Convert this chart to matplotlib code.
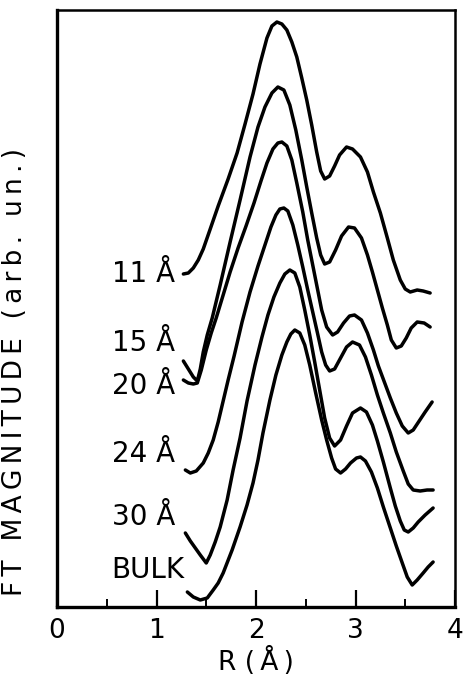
import matplotlib
matplotlib.use("Agg")
from matplotlib import pyplot as plt

# ######### Data: FT magnitude vs R, curves stacked (arb. units) #########

r_11 = [1.27, 1.32, 1.37, 1.42, 1.47, 1.54, 1.62, 1.72, 1.81, 1.89, 1.97, 2.04, 2.11, 2.16,
        2.21, 2.26, 2.31, 2.36, 2.41, 2.46, 2.51, 2.56, 2.61, 2.65, 2.69, 2.74, 2.79, 2.84,
        2.91, 2.97, 3.05, 3.12, 3.18, 3.25, 3.32, 3.38, 3.45, 3.50, 3.55, 3.62, 3.68, 3.75]
ft_11 = [3.33, 3.34, 3.39, 3.47, 3.58, 3.78, 4.01, 4.28, 4.54, 4.83, 5.13, 5.43, 5.69, 5.81,
         5.85, 5.83, 5.77, 5.65, 5.50, 5.29, 5.07, 4.82, 4.55, 4.36, 4.28, 4.31, 4.41, 4.52,
         4.60, 4.58, 4.50, 4.35, 4.15, 3.94, 3.69, 3.47, 3.27, 3.18, 3.15, 3.17, 3.16, 3.14]

r_15 = [1.27, 1.32, 1.37, 1.41, 1.44, 1.47, 1.51, 1.56, 1.64, 1.74, 1.84, 1.94, 2.02, 2.09,
        2.16, 2.22, 2.28, 2.34, 2.40, 2.46, 2.51, 2.56, 2.61, 2.65, 2.69, 2.74, 2.80, 2.86,
        2.93, 2.99, 3.06, 3.12, 3.17, 3.22, 3.27, 3.32, 3.36, 3.41, 3.46, 3.51, 3.56, 3.62,
        3.69, 3.75]
ft_15 = [2.46, 2.38, 2.30, 2.26, 2.38, 2.55, 2.72, 2.89, 3.22, 3.65, 4.07, 4.50, 4.80, 5.00,
         5.14, 5.20, 5.17, 5.02, 4.77, 4.47, 4.20, 3.94, 3.69, 3.52, 3.43, 3.45, 3.57, 3.71,
         3.80, 3.79, 3.69, 3.52, 3.35, 3.17, 2.99, 2.82, 2.67, 2.59, 2.61, 2.69, 2.79, 2.85,
         2.84, 2.80]

r_20 = [1.27, 1.32, 1.37, 1.41, 1.45, 1.50, 1.55, 1.60, 1.67, 1.74, 1.82, 1.90, 1.98, 2.05,
        2.11, 2.17, 2.22, 2.26, 2.31, 2.36, 2.41, 2.47, 2.52, 2.57, 2.62, 2.66, 2.71, 2.77,
        2.82, 2.88, 2.94, 2.99, 3.06, 3.12, 3.18, 3.23, 3.29, 3.35, 3.41, 3.47, 3.53, 3.58,
        3.64, 3.70, 3.77]
ft_20 = [2.27, 2.24, 2.23, 2.24, 2.37, 2.57, 2.74, 2.89, 3.12, 3.35, 3.59, 3.81, 4.04, 4.26,
         4.44, 4.58, 4.64, 4.65, 4.61, 4.47, 4.24, 3.95, 3.67, 3.42, 3.17, 2.97, 2.80, 2.72,
         2.75, 2.84, 2.91, 2.92, 2.87, 2.74, 2.57, 2.41, 2.25, 2.09, 1.94, 1.81, 1.74, 1.77,
         1.86, 1.95, 2.05]

r_24 = [1.29, 1.34, 1.40, 1.47, 1.52, 1.57, 1.62, 1.67, 1.72, 1.78, 1.86, 1.94, 2.02, 2.09,
        2.15, 2.20, 2.24, 2.28, 2.32, 2.37, 2.42, 2.47, 2.52, 2.57, 2.62, 2.66, 2.70, 2.74,
        2.79, 2.85, 2.91, 2.97, 3.04, 3.10, 3.16, 3.22, 3.28, 3.35, 3.41, 3.48, 3.53, 3.58,
        3.65, 3.72, 3.78]
ft_24 = [1.37, 1.34, 1.36, 1.44, 1.54, 1.67, 1.85, 2.06, 2.27, 2.51, 2.85, 3.15, 3.41, 3.62,
         3.80, 3.92, 3.98, 3.99, 3.96, 3.82, 3.62, 3.40, 3.17, 2.95, 2.73, 2.55, 2.42, 2.36,
         2.38, 2.49, 2.60, 2.65, 2.62, 2.50, 2.32, 2.12, 1.94, 1.74, 1.55, 1.36, 1.23, 1.17,
         1.16, 1.17, 1.17]

r_30 = [1.29, 1.34, 1.39, 1.44, 1.50, 1.54, 1.59, 1.64, 1.71, 1.77, 1.84, 1.91, 1.99, 2.06,
        2.12, 2.18, 2.24, 2.29, 2.34, 2.39, 2.44, 2.49, 2.54, 2.59, 2.64, 2.69, 2.74, 2.79,
        2.85, 2.91, 2.97, 3.05, 3.11, 3.17, 3.22, 3.28, 3.35, 3.40, 3.45, 3.49, 3.53, 3.58,
        3.63, 3.70, 3.78]
ft_30 = [0.74, 0.66, 0.59, 0.52, 0.44, 0.52, 0.65, 0.80, 1.07, 1.37, 1.69, 2.06, 2.42, 2.70,
         2.92, 3.10, 3.24, 3.33, 3.37, 3.34, 3.20, 2.97, 2.72, 2.45, 2.17, 1.89, 1.69, 1.61,
         1.67, 1.81, 1.94, 1.99, 1.95, 1.82, 1.66, 1.45, 1.19, 1.01, 0.86, 0.77, 0.75, 0.79,
         0.85, 0.92, 0.99]

r_bulk = [1.31, 1.37, 1.44, 1.51, 1.57, 1.62, 1.67, 1.76, 1.84, 1.91, 1.97, 2.02, 2.07, 2.14,
          2.20, 2.26, 2.31, 2.35, 2.39, 2.44, 2.49, 2.54, 2.60, 2.66, 2.71, 2.76, 2.80, 2.85,
          2.90, 2.95, 3.01, 3.05, 3.10, 3.16, 3.22, 3.28, 3.35, 3.41, 3.47, 3.52, 3.57, 3.62,
          3.68, 3.73, 3.78]
ft_bulk = [0.15, 0.10, 0.07, 0.09, 0.17, 0.24, 0.34, 0.57, 0.80, 1.02, 1.24, 1.47, 1.74, 2.07,
           2.32, 2.52, 2.65, 2.73, 2.77, 2.74, 2.62, 2.42, 2.14, 1.87, 1.67, 1.49, 1.38, 1.34,
           1.38, 1.44, 1.49, 1.50, 1.46, 1.35, 1.19, 1.00, 0.79, 0.61, 0.44, 0.30, 0.22, 0.27,
           0.34, 0.40, 0.45]

curve_labels = ["11 Å", "15 Å", "20 Å", "24 Å", "30 Å", "BULK"]
label_y = [3.33, 2.64, 2.21, 1.53, 0.90, 0.37]
label_x = 0.55

major_ticks = [0, 1, 2, 3, 4]
minor_ticks = [0.5, 1.5, 2.5, 3.5]

######### Visualization #########

plt.rcParams['font.family'] = ['DejaVu Sans']

fig = plt.figure(figsize=(4.67, 6.78), dpi=100)
ax = fig.add_axes([57 / 467, 71 / 678, 398 / 467, 597 / 678])

curves = [(r_11, ft_11), (r_15, ft_15), (r_20, ft_20),
          (r_24, ft_24), (r_30, ft_30), (r_bulk, ft_bulk)]
for r, ft in curves:
    ax.plot(r, ft, color='black', lw=2.5, solid_capstyle='round', solid_joinstyle='round')

for lab, yy in zip(curve_labels, label_y):
    ax.text(label_x, yy, lab, fontsize=20, ha='left', va='center')

ax.set_xlim(0, 4)
ax.set_ylim(0, 5.97)
ax.set_yticks([])
ax.set_xticks(major_ticks)
ax.set_xticks(minor_ticks, minor=True)
ax.tick_params(axis='x', which='major', direction='in', length=12, width=1.6,
               labelsize=19, pad=8)
ax.tick_params(axis='x', which='minor', direction='in', length=6, width=1.4)

for side in ['bottom', 'left']:
    ax.spines[side].set_linewidth(2.4)
for side in ['top', 'right']:
    ax.spines[side].set_linewidth(1.8)

ts = '\u2009'
ax.set_ylabel(ts.join("FT MAGNITUDE (arb. un.)"), fontsize=19)
ax.yaxis.set_label_coords(-0.072, 0.394)
ax.set_xlabel("R (" + ts + "Å" + ts + ")", fontsize=19, labelpad=2)

fig.savefig('out.png', dpi=100)
